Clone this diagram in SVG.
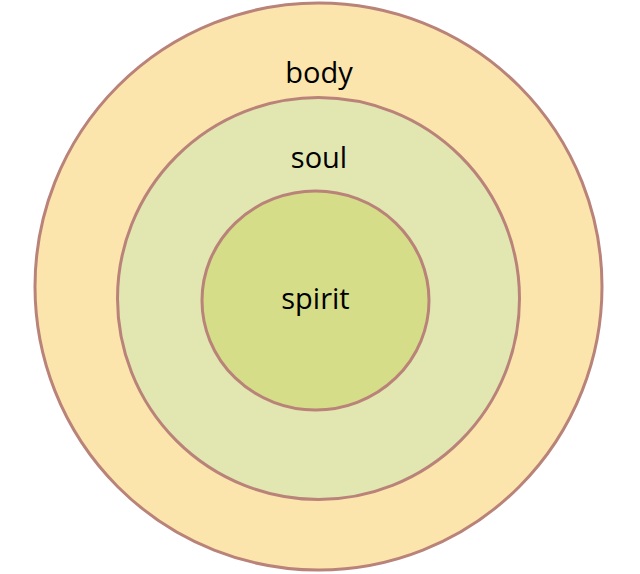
<svg xmlns="http://www.w3.org/2000/svg" width="640" height="574" viewBox="0 0 640 574">
<style>
.ring{stroke:#B9837A;stroke-width:3}
.lbl{font-family:"Open Sans","Liberation Sans",sans-serif;font-size:29px;fill:#000;text-anchor:middle}
</style>
<rect width="640" height="574" fill="#fff"/>
<g id="body">
<circle class="ring" cx="318.5" cy="286.5" r="283.5" fill="#FBE5AD"/>
<text class="lbl" x="319" y="83">body</text>
</g>
<g id="soul">
<circle class="ring" cx="318.5" cy="298.5" r="201" fill="#E2E6B1"/>
<text class="lbl" x="319" y="168">soul</text>
</g>
<g id="spirit">
<ellipse class="ring" cx="315.5" cy="300.5" rx="113.5" ry="109.5" fill="#D5DD88"/>
<text class="lbl" x="315.5" y="309">spirit</text>
</g>
<g id="connectors"/>
</svg>
